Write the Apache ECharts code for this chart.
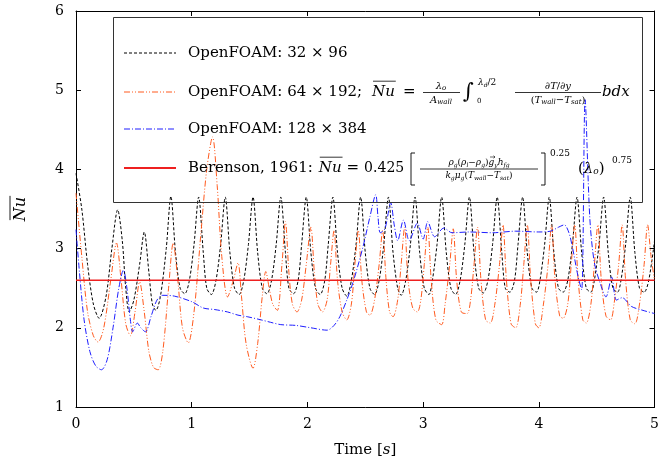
<!DOCTYPE html>
<html><head><meta charset="utf-8">
<script src="https://cdn.jsdelivr.net/npm/echarts@6/dist/echarts.min.js"></script>
<style>html,body{margin:0;padding:0;background:#fff}#c{width:662px;height:471px}</style>
</head><body><div id="c"></div>
<script>
// ---------- data ----------
const xTicks = [0, 1, 2, 3, 4, 5];
const yTicks = [1, 2, 3, 4, 5, 6];
const seriesNames = ['OpenFOAM: 32 × 96', 'OpenFOAM: 64 × 192', 'OpenFOAM: 128 × 384', 'Berenson, 1961'];

const black32 = [
[0,3.95],[0.05,3.5],[0.1,2.8],[0.15,2.3],[0.2,2.12],[0.26,2.4],[0.31,3.0],[0.36,3.49],[0.4,3.1],[0.43,2.5],[0.46,2.2],[0.5,2.35],[0.55,2.8],[0.59,3.21],[0.63,2.7],[0.66,2.3],[0.69,2.22],[0.73,2.4],[0.78,3.0],[0.82,3.66],
[0.86,2.95],[0.9,2.5],[0.94,2.43],[0.98,2.6],[1.02,3.05],[1.06,3.65],
[1.1,2.95],[1.13,2.5],[1.17,2.42],[1.21,2.6],[1.25,3.05],[1.29,3.65],
[1.33,2.95],[1.37,2.5],[1.41,2.42],[1.45,2.6],[1.49,3.05],[1.53,3.65],
[1.57,2.95],[1.61,2.5],[1.65,2.43],[1.69,2.6],[1.73,3.05],[1.77,3.65],
[1.81,2.95],[1.84,2.5],[1.88,2.43],[1.92,2.6],[1.95,3.05],[1.99,3.65],
[2.03,2.95],[2.07,2.5],[2.11,2.42],[2.15,2.6],[2.18,3.05],[2.22,3.65],
[2.26,2.95],[2.3,2.5],[2.34,2.4],[2.38,2.6],[2.42,3.05],[2.46,3.65],
[2.5,2.95],[2.54,2.5],[2.58,2.42],[2.62,2.6],[2.66,3.05],[2.7,3.65],
[2.74,2.95],[2.78,2.5],[2.81,2.41],[2.85,2.6],[2.89,3.05],[2.93,3.65],
[2.97,2.95],[3.01,2.5],[3.05,2.42],[3.08,2.6],[3.12,3.05],[3.16,3.65],
[3.2,2.95],[3.24,2.5],[3.28,2.42],[3.32,2.6],[3.36,3.05],[3.4,3.65],
[3.44,2.95],[3.48,2.5],[3.52,2.44],[3.56,2.6],[3.6,3.05],[3.64,3.65],
[3.68,2.95],[3.71,2.5],[3.75,2.45],[3.79,2.6],[3.82,3.05],[3.86,3.65],
[3.9,2.95],[3.94,2.5],[3.98,2.45],[4.01,2.6],[4.05,3.05],[4.09,3.65],
[4.13,2.95],[4.17,2.5],[4.21,2.45],[4.25,2.6],[4.29,3.05],[4.33,3.65],
[4.37,2.95],[4.41,2.5],[4.45,2.45],[4.48,2.6],[4.52,3.05],[4.56,3.65],
[4.6,2.95],[4.64,2.5],[4.68,2.45],[4.71,2.6],[4.75,3.05],[4.79,3.65],
[4.83,2.95],[4.87,2.5],[4.91,2.45],[4.95,2.6],[5.0,3.1]
];

const orange64 = [
[0,3.7],[0.05,2.9],[0.1,2.2],[0.15,1.9],[0.19,1.82],[0.24,2.0],[0.3,2.6],[0.35,3.07],[0.39,2.6],[0.43,2.05],[0.47,1.9],[0.51,2.2],[0.55,2.58],[0.59,2.2],[0.63,1.7],[0.67,1.5],[0.71,1.47],[0.75,1.7],[0.8,2.5],[0.84,3.07],
[0.88,2.6],[0.92,2.0],[0.97,1.81],[1.02,2.2],[1.08,3.2],[1.13,4.0],[1.18,4.41],[1.22,3.8],[1.26,2.9],[1.31,2.39],[1.36,2.6],[1.4,2.82],[1.43,2.4],[1.47,1.8],[1.53,1.49],[1.57,1.8],[1.61,2.4],[1.64,2.71],[1.67,2.5],[1.7,2.3],[1.74,2.22],[1.78,2.8],[1.81,3.34],
[1.84,2.7],[1.87,2.3],[1.91,2.2],[1.95,2.35],[1.99,2.8],[2.03,3.27],
[2.06,2.7],[2.09,2.3],[2.13,2.2],[2.17,2.35],[2.2,2.8],[2.23,3.23],
[2.26,2.6],[2.3,2.2],[2.34,2.1],[2.38,2.3],[2.41,2.8],[2.44,3.23],
[2.47,2.6],[2.51,2.2],[2.54,2.16],[2.58,2.35],[2.62,2.8],[2.65,3.23],
[2.68,2.6],[2.71,2.2],[2.74,2.14],[2.78,2.35],[2.81,2.8],[2.84,3.27],
[2.87,2.6],[2.91,2.25],[2.95,2.2],[2.98,2.35],[3.01,2.8],[3.04,3.27],
[3.07,2.6],[3.11,2.1],[3.16,2.04],[3.19,2.3],[3.23,2.8],[3.26,3.25],
[3.29,2.6],[3.33,2.2],[3.38,2.18],[3.41,2.35],[3.44,2.8],[3.47,3.27],
[3.5,2.6],[3.54,2.1],[3.58,2.06],[3.62,2.3],[3.66,2.8],[3.69,3.3],
[3.72,2.6],[3.76,2.05],[3.8,2.0],[3.84,2.3],[3.87,2.8],[3.9,3.3],
[3.93,2.6],[3.97,2.05],[4.0,2.0],[4.04,2.3],[4.08,2.8],[4.11,3.3],
[4.14,2.6],[4.18,2.15],[4.21,2.12],[4.25,2.3],[4.28,2.8],[4.31,3.3],
[4.34,2.6],[4.38,2.1],[4.41,2.06],[4.45,2.3],[4.48,2.8],[4.51,3.3],
[4.54,2.6],[4.58,2.15],[4.62,2.1],[4.65,2.3],[4.69,2.8],[4.72,3.3],
[4.75,2.6],[4.79,2.1],[4.83,2.05],[4.87,2.3],[4.91,2.8],[4.94,3.3],
[4.97,2.9],[5.0,2.6]
];

const blue128 = [
[0,3.24],[0.03,2.7],[0.07,2.1],[0.12,1.7],[0.17,1.52],[0.22,1.47],[0.27,1.6],[0.32,2.0],[0.37,2.5],[0.41,2.73],[0.44,2.5],[0.47,2.1],[0.49,1.95],[0.53,2.06],[0.56,2.0],[0.6,1.95],[0.65,2.15],[0.7,2.35],[0.75,2.41],
[0.85,2.4],[1.0,2.33],[1.1,2.25],[1.2,2.23],[1.31,2.2],[1.4,2.16],[1.48,2.14],[1.6,2.1],[1.68,2.07],[1.77,2.04],[1.9,2.03],[2.03,2.0],[2.17,1.97],[2.23,2.03],[2.28,2.14],[2.34,2.35],[2.4,2.6],[2.48,3.02],[2.54,3.4],[2.59,3.68],
[2.61,3.4],[2.63,3.2],[2.67,3.25],[2.72,3.58],[2.75,3.3],[2.78,3.1],[2.83,3.36],[2.88,3.1],[2.95,3.32],[3.0,3.12],[3.04,3.34],[3.1,3.15],[3.18,3.26],[3.25,3.2],[3.4,3.21],[3.6,3.2],[3.8,3.22],[4.0,3.21],[4.1,3.22],[4.17,3.27],[4.22,3.3],
[4.26,3.2],[4.29,3.02],[4.34,2.64],[4.37,2.48],[4.4,4.88],[4.44,3.4],[4.48,2.82],[4.54,2.52],[4.58,2.39],[4.63,2.64],[4.67,2.35],[4.72,2.38],[4.8,2.27],[4.9,2.22],[5.0,2.18]
];

const berensonNu = 2.6;
const berensonT = [0, 5];

// ---------- styles ----------
const COL = { black: '#000000', orange: '#ff5a1e', blue: '#1e1eff', red: '#ee2020' };
const DASH = { black: [3, 2], orange: [6, 2, 1, 2, 1, 2], blue: [6, 2, 1, 2] };
const FAM = '"DejaVu Serif", serif';
const LF = 15; // legend font size

const cv = document.createElement('canvas').getContext('2d');
function fnt(size, it) { return (it ? 'italic ' : '') + size + 'px ' + FAM; }
function tw(s, size, it) { cv.font = fnt(size, it); return cv.measureText(s).width; }
const G = [];
function txt(x, y, s, size, it) {
  G.push({ type: 'text', x: x, y: y, z: 100, style: { text: s, font: fnt(size, it), fill: '#000', align: 'left', verticalAlign: 'middle' } });
}
// pieces: [text, size, italic, dy]
function runW(pieces) { let w = 0; for (const p of pieces) w += tw(p[0], p[1], p[2]); return w; }
function run(x, y, pieces) {
  for (const p of pieces) { txt(x, y + (p[3] || 0), p[0], p[1], p[2]); x += tw(p[0], p[1], p[2]); }
  return x;
}
function runC(cx, y, pieces) { return run(cx - runW(pieces) / 2, y, pieces); }
function ln(x1, y1, x2, y2, color, w, dash) {
  G.push({ type: 'line', z: 100, shape: { x1, y1, x2, y2 }, style: { stroke: color, lineWidth: w, lineDash: dash || null } });
}
function overline(x, y, s, size) { // italic Nu with bar
  const w = tw(s, size, true);
  txt(x, y, s, size, true);
  ln(x + 1, y - size * 0.72, x + w + 1, y - size * 0.72, '#000', 0.8);
  return x + w;
}

// legend box
G.push({ type: 'rect', z: 99, shape: { x: 113.5, y: 17.5, width: 529, height: 185 }, style: { fill: 'none', stroke: '#333', lineWidth: 1 } });
const rows = [53, 92, 129, 168];
ln(124, rows[0], 176, rows[0], COL.black, 1, DASH.black);
ln(124, rows[1], 176, rows[1], COL.orange, 1, DASH.orange);
ln(124, rows[2], 176, rows[2], COL.blue, 1, DASH.blue);
ln(124, rows[3], 176, rows[3], COL.red, 2);

txt(188, rows[0], seriesNames[0], LF, false);
// row 2
run(188, rows[1], [[seriesNames[1] + ';', LF, false]]);
overline(372, rows[1], 'Nu', LF);
run(403, rows[1], [['=', LF, false]]);
runC(441, rows[1] - 5.5, [['λ', 10, true], ['o', 7, true, 2]]);
ln(423, rows[1] + 0.5, 460, rows[1] + 0.5, '#000', 0.8);
runC(441, rows[1] + 8, [['A', 10, true], ['wall', 7, true, 2]]);
txt(463, rows[1] + 1, '∫', 21, false);
run(478, rows[1] - 9, [['λ', 9, true], ['d', 6, true, 2], ['/2', 9, false]]);
txt(477, rows[1] + 9, '0', 7, false);
runC(558, rows[1] - 6, [['∂', 10, false], ['T', 10, true], ['/', 10, false], ['∂', 10, false], ['y', 10, true]]);
ln(515, rows[1] + 0.5, 601, rows[1] + 0.5, '#000', 0.8);
runC(558, rows[1] + 8, [['(', 10, false], ['T', 10, true], ['wall', 7, true, 2], ['−', 10, false], ['T', 10, true], ['sat', 7, true, 2], [')', 10, false]]);
run(602, rows[1], [['bdx', LF, true]]);
// row 3
txt(188, rows[2], seriesNames[2], LF, false);
// row 4
let x4 = run(188, rows[3], [[seriesNames[3] + ':', LF, false]]);
x4 = overline(x4 + 6, rows[3], 'Nu', LF);
x4 = run(x4 + 5, rows[3], [['=', LF, false]]);
run(x4 + 5, rows[3], [['0.425', 14, false]]);
// brackets
G.push({ type: 'polyline', z: 100, shape: { points: [[415, 153], [411, 153], [411, 185], [415, 185]] }, style: { stroke: '#000', lineWidth: 0.9, fill: 'none' } });
G.push({ type: 'polyline', z: 100, shape: { points: [[541, 153], [545, 153], [545, 185], [541, 185]] }, style: { stroke: '#000', lineWidth: 0.9, fill: 'none' } });
const numer = [['ρ', 9, true], ['g', 6, true, 2], ['(', 9, false], ['ρ', 9, true], ['l', 6, true, 2], ['−', 9, false], ['ρ', 9, true], ['g', 6, true, 2], [')', 9, false], ['g', 9, true], ['y', 6, true, 2], ['h', 9, true], ['fg', 6, true, 2]];
const nx0 = 479 - runW(numer) / 2;
runC(479, rows[3] - 5, numer);
{ // vector arrow over g
  const ax = nx0 + runW(numer.slice(0, 9));
  const ay = rows[3] - 11;
  ln(ax + 1.5, ay, ax + 6.5, ay, '#000', 0.6);
  ln(ax + 5, ay - 1.3, ax + 6.5, ay, '#000', 0.6);
  ln(ax + 5, ay + 1.3, ax + 6.5, ay, '#000', 0.6);
}
ln(420, rows[3] + 1, 538, rows[3] + 1, '#000', 0.8);
runC(479, rows[3] + 8, [['k', 9, true], ['g', 6, true, 2], ['μ', 9, true], ['g', 6, true, 2], ['(', 9, false], ['T', 9, true], ['wall', 6, true, 2], ['−', 9, false], ['T', 9, true], ['sat', 6, true, 2], [')', 9, false]]);
txt(550, rows[3] - 14, '0.25', 9, false);
run(578, rows[3] + 1, [['(', LF, false], ['λ', LF, true], ['o', 9, true, 3], [')', LF, false]]);
txt(612, rows[3] - 7, '0.75', 9, false);

// y axis title, rotated
G.push({ type: 'group', x: 21, y: 209, rotation: Math.PI / 2, z: 100, children: [
  { type: 'text', x: 0, y: 0, style: { text: 'Nu', font: fnt(16, true), fill: '#000', align: 'center', verticalAlign: 'middle' } },
  { type: 'line', shape: { x1: -tw('Nu', 16, true) / 2 + 1, y1: -11, x2: tw('Nu', 16, true) / 2 + 1, y2: -11 }, style: { stroke: '#000', lineWidth: 0.9 } }
] });

const chart = echarts.init(document.getElementById('c'), null, { renderer: 'canvas' });
const axLab = { color: '#000', fontFamily: FAM, fontSize: 14 };
const xBase = { type: 'value', min: xTicks[0], max: xTicks[xTicks.length - 1], interval: 1,
  splitLine: { show: false }, axisLine: { show: true, onZero: false, lineStyle: { color: '#000', width: 1 } },
  axisTick: { show: true, inside: true, length: 5, lineStyle: { color: '#000' } } };
const yBase = { type: 'value', min: yTicks[0], max: yTicks[yTicks.length - 1], interval: 1,
  splitLine: { show: false }, axisLine: { show: true, onZero: false, lineStyle: { color: '#000', width: 1 } },
  axisTick: { show: true, inside: true, length: 5, lineStyle: { color: '#000' } } };

chart.setOption({
  animation: false,
  backgroundColor: '#fff',
  grid: { left: 76, right: 4, top: 11, bottom: 64, containLabel: false },
  xAxis: [
    Object.assign({}, xBase, { position: 'bottom', axisLabel: Object.assign({ margin: 10 }, axLab),
      name: '{a|Time [}{b|s}{a|]}', nameLocation: 'middle', nameGap: 36,
      nameTextStyle: { rich: { a: { fontFamily: FAM, fontSize: 15, color: '#000' }, b: { fontFamily: FAM, fontSize: 15, fontStyle: 'italic', color: '#000' } } } }),
    Object.assign({}, xBase, { position: 'top', axisLabel: { show: false } })
  ],
  yAxis: [
    Object.assign({}, yBase, { position: 'left', axisLabel: Object.assign({ margin: 12 }, axLab) }),
    Object.assign({}, yBase, { position: 'right', axisLabel: { show: false } })
  ],
  series: [
    { name: seriesNames[0], type: 'line', data: black32, smooth: 0.3, showSymbol: false, lineStyle: { color: COL.black, width: 1, type: DASH.black } },
    { name: seriesNames[1], type: 'line', data: orange64, smooth: 0.3, showSymbol: false, lineStyle: { color: COL.orange, width: 1, type: DASH.orange } },
    { name: seriesNames[2], type: 'line', data: blue128, smooth: 0.3, showSymbol: false, lineStyle: { color: COL.blue, width: 1, type: DASH.blue } },
    { name: seriesNames[3], type: 'line', data: berensonT.map(t => [t, berensonNu]), showSymbol: false, lineStyle: { color: COL.red, width: 1.6 } }
  ],
  graphic: G
});
</script></body></html>
